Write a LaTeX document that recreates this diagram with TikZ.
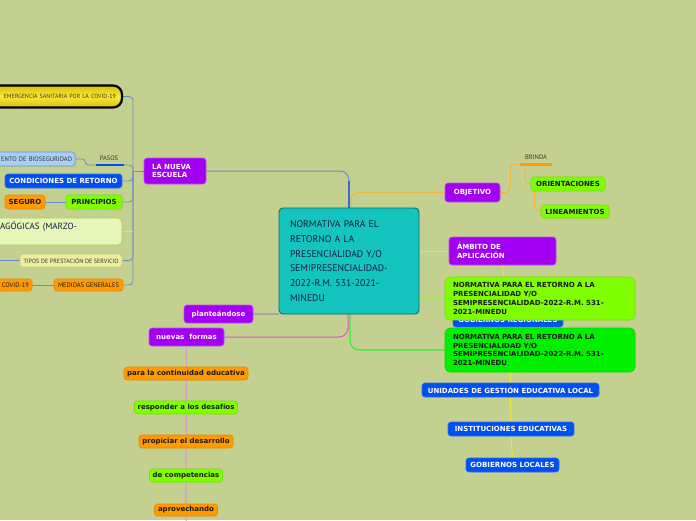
\documentclass[tikz,border=0pt]{standalone}
\usepackage{fontspec}
\setmainfont{DejaVu Sans}
\newfontfamily\ptsans{PT Sans}
\usetikzlibrary{arrows.meta,calc}
\definecolor{cbg}{HTML}{C4D08F}
\definecolor{cpur}{HTML}{A300F2}
\definecolor{cpurd}{HTML}{B850F5}
\definecolor{cblu}{HTML}{0050F0}
\definecolor{cblud}{HTML}{2A6AF0}
\definecolor{corg}{HTML}{FF9A00}
\definecolor{corgd}{HTML}{E88A00}
\definecolor{cgrn}{HTML}{80FF00}
\definecolor{cgrnd}{HTML}{70E000}
\definecolor{cgrn2}{HTML}{00F000}
\definecolor{cgrn2d}{HTML}{00D800}
\definecolor{cteal}{HTML}{14C4BE}
\definecolor{ctealdk}{HTML}{0B6B66}
\definecolor{cyel}{HTML}{F8E830}
\definecolor{cyeld}{HTML}{D8C010}
\definecolor{clb}{HTML}{A9CFF2}
\definecolor{clbd}{HTML}{6C90C8}
\definecolor{clg}{HTML}{E5F6B8}
\definecolor{clgd}{HTML}{A6D05A}
\definecolor{ctip}{HTML}{EEEEA0}
\definecolor{ctipd}{HTML}{C8C878}
\definecolor{ctxt}{HTML}{333333}
\definecolor{cnavy}{HTML}{102040}
\definecolor{clc}{HTML}{6B8CC6}
\definecolor{cblc}{HTML}{3A6AD8}
\definecolor{coc}{HTML}{F2B43A}
\definecolor{cyc}{HTML}{E8E830}
\definecolor{cgc}{HTML}{A6EC4C}
\definecolor{cgc2}{HTML}{30F030}
\definecolor{cmag}{HTML}{E050D8}
\definecolor{cpink}{HTML}{D89AC8}
\definecolor{cgray}{HTML}{A8A8A8}
\newcommand\mysmall{\ptsans\fontsize{6.5}{7.5}\selectfont}
\newcommand\mytiny{\ptsans\fontsize{6.1}{7}\selectfont}
\newcommand\myemg{\ptsans\fontsize{6.0}{7}\selectfont}
\newcommand\mybold{\bfseries\fontsize{7}{8.8}\selectfont}
\pgfdeclarelayer{back}
\pgfdeclarelayer{bg}
\pgfsetlayers{back,bg,main}
\begin{document}
\begin{tikzpicture}[x=1pt,y=-1pt,
  wh/.style 2 args={minimum width=#1pt, minimum height=#2pt},
  bx/.style={rectangle, rounded corners=3pt, inner sep=0pt, font=\mybold, line width=0.6pt},
  pur/.style={bx, fill=cpur, draw=cpurd, text=white},
  blu/.style={bx, fill=cblu, draw=cblud, text=white},
  org/.style={bx, fill=corg, draw=corgd, text=black!90},
  grn/.style={bx, fill=cgrn, draw=cgrnd, text=black!90},
  grn2/.style={bx, fill=cgrn2, draw=cgrn2d, text=black!90},
  small/.style={inner sep=0pt, font=\mysmall, text=ctxt},
  lc/.style={draw=clc, line width=0.8pt, rounded corners=4pt},
  oc/.style={draw=coc, line width=1pt, rounded corners=5pt},
  yarr/.style={draw=cyc, line width=1pt, -{Stealth[length=3pt,width=3.5pt]}}
]
\useasboundingbox (0,0) rectangle (696,520);
\begin{pgfonlayer}{back}
\fill[cbg] (0,0) rectangle (696,520);
\end{pgfonlayer}

% ---------- centre ----------
\node[rectangle, rounded corners=4pt, fill=cteal, draw=ctealdk, line width=0.9pt,
  wh={140}{106}, text width=118pt, align=left, inner sep=0pt, text=cnavy,
  font=\ptsans\fontsize{9.7}{14.8}\selectfont] (c) at (349,261)
  {NORMATIVA PARA EL\\RETORNO A LA\\PRESENCIALIDAD Y/O\\SEMIPRESENCIALIDAD-\\2022-R.M. 531-2021-\\MINEDU};

% ---------- left ----------
\node[rectangle, rounded corners=9pt, draw=black, line width=2.2pt,
  top color=cyeld, bottom color=cyeld, middle color=cyel,
  wh={142}{22}, text width=130pt, align=right, inner xsep=6pt, inner ysep=0pt,
  font=\myemg, text=ctxt] (emerg) at (51,96.5) {EMERGENCIA SANITARIA POR LA COVID-19};
\node[rectangle, rounded corners=3pt, fill=clb, draw=clbd, line width=0.6pt,
  wh={85}{14}, text width=79pt, align=right, inner xsep=3pt, inner ysep=0pt,
  font=\mysmall, text=ctxt] (bio) at (32.5,159) {ENTO DE BIOSEGURIDAD};
\node[small] (pasos) at (109,158) {PASOS};
\coordinate (pL) at (96,165);
\coordinate (pR) at (124,165);
\node[blu, wh={117}{14}] (cond) at (63.5,181) {CONDICIONES DE RETORNO};
\node[org, wh={40}{14}] (seg) at (25,202) {SEGURO};
\node[grn, wh={56}{14}] (prin) at (94,202) {PRINCIPIOS};
\node[rectangle, rounded corners=4pt, fill=clg, draw=clgd, line width=0.8pt,
  wh={132}{27}, text width=112pt, align=left, inner xsep=10pt, inner ysep=0pt,
  font=\ptsans\fontsize{9}{12}\selectfont, text=cnavy] (agog) at (56,231.5) {AGÓGICAS (MARZO-\\\mbox{}};
\node[rectangle, rounded corners=3pt, fill=ctip, draw=ctipd, line width=0.6pt,
  wh={102}{13}, inner sep=0pt, font=\mytiny, text=ctxt] (tipos) at (71,260.5) {TIPOS DE PRESTACIÓN DE SERVICIO};
\coordinate (tl) at (-2,260.5);
\node[org, font=\mysmall, wh={42}{12}, text width=36pt, align=right, inner xsep=3pt] (covid) at (11,285) {COVID-19};
\node[org, font=\mysmall, wh={69}{12}] (med) at (88.5,285) {MEDIDAS GENERALES};
\coordinate (jL) at (133,171);
\node[pur, wh={62}{26}, text width=46pt, align=left] (lane) at (175,171) {LA NUEVA\\ESCUELA};

% ---------- bottom left ----------
\node[pur, wh={69}{18}] (plant) at (218.5,314) {planteándose};
\node[pur, wh={75}{18}] (nf) at (186.5,337) {nuevas\ \ formas};
\node[org, wh={124}{13}] (cont) at (186,373.5) {para la continuidad educativa};
\node[grn, wh={103}{13}] (resp) at (186,407.5) {responder a los desafíos};
\node[org, wh={94}{13}] (prop) at (186,441.5) {propiciar el desarrollo};
\node[grn, wh={73}{13}] (comp) at (186,475.5) {de competencias};
\node[org, wh={63}{12}] (aprov) at (186,510) {aprovechando};
\coordinate (bot) at (186,522);

% ---------- right ----------
\node[pur, wh={55}{19}] (obj) at (472.5,192.5) {OBJETIVO};
\node[small] (brinda) at (536,157) {BRINDA};
\coordinate (bL) at (520,164);
\coordinate (bR) at (552,164);
\coordinate (bJ) at (525,164);
\node[grn, wh={74}{14}] (ori) at (568,184) {ORIENTACIONES};
\node[grn, wh={68}{13}] (lin) at (575,211.5) {LINEAMIENTOS};
\node[pur, wh={107}{28}, text width=91pt, align=left] (amb) at (502.5,251) {ÁMBITO DE\\APLICACIÓN};
\node[blu, wh={110}{14}] (greg) at (508,320) {GOBIERNOS REGIONALES};
\node[grn, wh={190}{43}, text width=174pt, align=left, rounded corners=5pt] (n1) at (540,298.5)
  {NORMATIVA PARA EL RETORNO A LA\\PRESENCIALIDAD Y/O\\SEMIPRESENCIALIDAD-2022-R.M. 531-\\2021-MINEDU};
\node[grn2, wh={190}{44}, text width=174pt, align=left, rounded corners=5pt] (n2) at (540,350)
  {NORMATIVA PARA EL RETORNO A LA\\PRESENCIALIDAD Y/O\\SEMIPRESENCIALIDAD-2022-R.M. 531-\\2021-MINEDU};
\node[blu, wh={177}{14}] (ugel) at (510.5,390) {UNIDADES DE GESTIÓN EDUCATIVA LOCAL};
\node[blu, wh={126}{14}] (inst) at (511,429) {INSTITUCIONES EDUCATIVAS};
\node[blu, wh={93}{14}] (gloc) at (512.5,465) {GOBIERNOS LOCALES};

% underlines
\draw[line width=2.5pt, cblu] (pL) -- (pR);
\draw[line width=3pt, corg] (bL) -- (bR);

% ---------- connectors ----------
\begin{pgfonlayer}{bg}
\draw[lc] (lane.west) -- (jL);
\draw[lc] (jL) |- (emerg.east);
\draw[lc] (jL) |- (pR);
\draw[lc] (jL) |- (cond.east);
\draw[lc] (jL) |- (prin.east);
\draw[lc] (jL) |- (tipos.east);
\draw[lc] (jL) |- (med.east);
\draw[draw=cyc, line width=0.8pt] (agog.east) -- (agog.east -| jL);
\draw[lc] (seg.east) -- (prin.west);
\draw[lc] (covid.east) -- (med.west);
\draw[lc] (tl) -- (tipos.west);
\draw[lc, rounded corners=3pt] (bio.east) -- ++(10,0) |- (pL);

\draw[draw=clc, line width=1pt, rounded corners=9pt] (lane.east) -| (c.north);
\draw[draw=cblc, line width=1.8pt] (c.north) -- ++(0,-27);
\draw[oc, rounded corners=8pt] ([xshift=2pt]c.north) |- (obj.west);
\draw[draw=cyc, line width=1pt] (c.east |- amb.west) -- (amb.west);
\draw[draw=cgc, line width=1pt] (c.east |- n1.west) -- (n1.west);
\draw[draw=cgc2, line width=1.2pt, rounded corners=9pt] ([xshift=1pt]c.south) |- (n2.west);
\draw[draw=cmag, line width=1pt, rounded corners=9pt] (nf.east) -| ([xshift=-1pt]c.south);
\draw[draw=cgray, line width=1.6pt] (plant.east) -- (c.west |- plant.east);
\draw[draw=cpink, line width=1pt] (nf.south) -- (bot);

\draw[oc] (obj.east) -- ++(10,0) |- (bL);
\draw[oc] (bJ) |- (ori.west);
\draw[oc] ([xshift=4pt]ori.south west) |- (lin.west);

\draw[yarr] (amb.south) -- (greg.north);
\draw[yarr] (greg.south) -- (ugel.north);
\draw[yarr] (ugel.south) -- (inst.north);
\draw[yarr] (inst.south) -- (gloc.north);
\end{pgfonlayer}
\end{tikzpicture}
\end{document}
